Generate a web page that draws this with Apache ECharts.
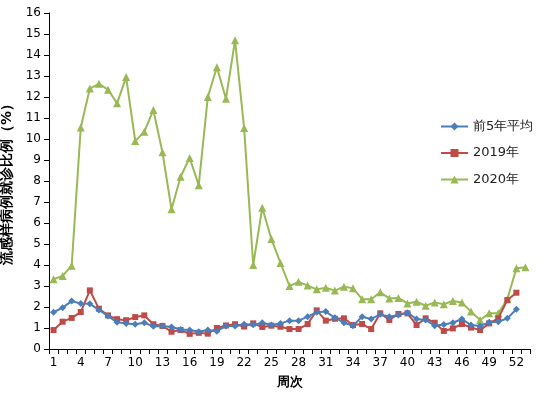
<!DOCTYPE html>
<html>
<head>
<meta charset="utf-8">
<script src="https://cdn.jsdelivr.net/npm/echarts@6/dist/echarts.min.js"></script>
<style>html,body{margin:0;padding:0;background:#fff}#c{width:554px;height:393px}</style>
</head>
<body>
<div id="c"></div>
<script>
var weeks = [];
for (var i = 1; i <= 53; i++) weeks.push(String(i));
var seriesNames = ['前5年平均', '2019年', '2020年'];
var avg5 = [1.75,1.97,2.28,2.17,2.15,1.86,1.57,1.27,1.22,1.18,1.25,1.08,1.1,1.05,0.93,0.9,0.82,0.9,0.85,1.1,1.1,1.18,1.15,1.25,1.14,1.22,1.35,1.35,1.54,1.75,1.78,1.49,1.25,1.11,1.54,1.43,1.65,1.54,1.62,1.73,1.43,1.38,1.11,1.17,1.25,1.43,1.14,1.1,1.27,1.3,1.46,1.89];
var y2019 = [0.9,1.3,1.48,1.76,2.79,1.92,1.6,1.42,1.37,1.52,1.6,1.18,1.1,0.82,0.9,0.72,0.77,0.73,1.0,1.12,1.18,1.07,1.22,1.05,1.11,1.06,0.95,0.95,1.19,1.84,1.35,1.44,1.46,1.14,1.19,0.95,1.7,1.38,1.67,1.7,1.14,1.46,1.25,0.86,0.98,1.19,1.02,0.9,1.22,1.46,2.33,2.68];
var y2020 = [3.32,3.48,3.97,10.55,12.4,12.63,12.35,11.7,12.95,9.9,10.35,11.38,9.37,6.65,8.2,9.1,7.8,12.0,13.42,11.92,14.7,10.52,4.0,6.73,5.24,4.1,3.0,3.2,3.02,2.84,2.92,2.78,2.97,2.89,2.37,2.37,2.7,2.41,2.43,2.17,2.25,2.06,2.22,2.13,2.29,2.21,1.78,1.38,1.7,1.7,2.37,3.84,3.89];
var colors = ['#4A7EBB', '#BE4B48', '#98B954'];

var chart = echarts.init(document.getElementById('c'));
var font = 'DejaVu Sans';
chart.setOption({
  animation: false,
  color: colors,
  grid: { left: 49, right: 24, top: 13, bottom: 44, containLabel: false, outerBoundsMode: 'none' },
  legend: {
    orient: 'vertical',
    left: 440,
    top: 120,
    padding: 0,
    itemWidth: 27,
    itemHeight: 10,
    itemGap: 13.5,
    textStyle: { fontFamily: font, fontSize: 13, color: '#222' },
    data: seriesNames
  },
  xAxis: {
    type: 'category',
    data: weeks,
    boundaryGap: true,
    name: '周次',
    nameLocation: 'middle',
    nameGap: 27,
    nameTextStyle: { fontFamily: font, fontSize: 13, fontWeight: 'bold', color: '#000' },
    axisLine: { lineStyle: { color: '#000', width: 1 } },
    axisTick: { show: true, interval: 0, length: 5, lineStyle: { color: '#000' } },
    axisLabel: { interval: 2, fontFamily: font, fontSize: 12, color: '#000', margin: 8 },
    splitLine: { show: false }
  },
  yAxis: {
    type: 'value',
    min: 0,
    max: 16,
    interval: 1,
    name: '流感样病例就诊比例（%）',
    nameLocation: 'middle',
    nameGap: 30,
    nameTextStyle: { fontFamily: font, fontSize: 14, fontWeight: 'bold', color: '#000' },
    axisLine: { show: true, lineStyle: { color: '#000', width: 1 } },
    axisTick: { show: true, length: 5, lineStyle: { color: '#000' } },
    axisLabel: { fontFamily: font, fontSize: 12, color: '#000', margin: 8 },
    splitLine: { show: false }
  },
  series: [
    { name: seriesNames[0], type: 'line', data: avg5, symbol: 'diamond', symbolSize: 7, showAllSymbol: true, lineStyle: { width: 2 }, z: 3 },
    { name: seriesNames[1], type: 'line', data: y2019, symbol: 'rect', symbolSize: 6, showAllSymbol: true, lineStyle: { width: 2 }, z: 2 },
    { name: seriesNames[2], type: 'line', data: y2020, symbol: 'triangle', symbolSize: 8, showAllSymbol: true, lineStyle: { width: 2 }, z: 1 }
  ]
});
</script>
</body>
</html>
